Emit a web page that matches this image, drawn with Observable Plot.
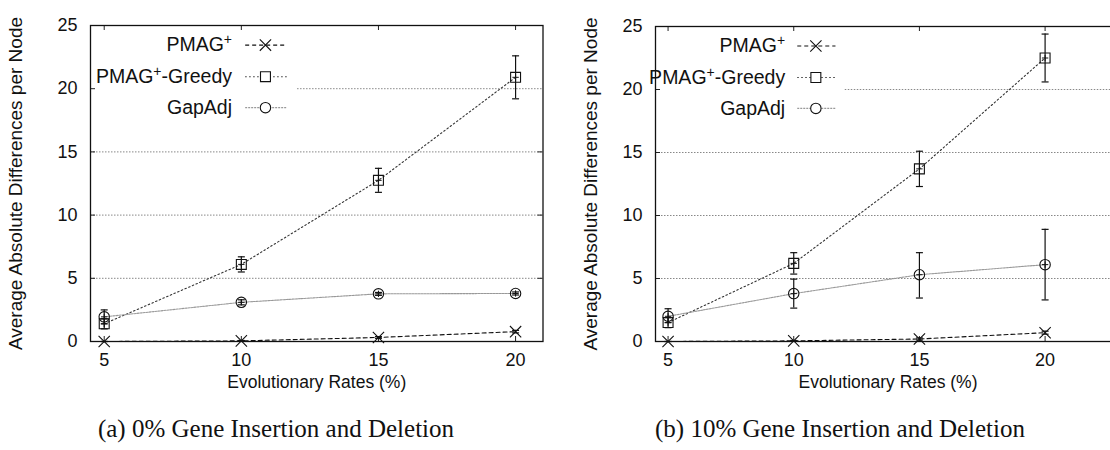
<!DOCTYPE html>
<html>
<head>
<meta charset="utf-8">
<script src="https://cdn.jsdelivr.net/npm/d3@7"></script>
<script src="https://cdn.jsdelivr.net/npm/@observablehq/plot@0.6"></script>
<style>
  html, body { margin: 0; padding: 0; background: #fff; }
  body { width: 1110px; height: 450px; overflow: hidden; position: relative; }
  .panel { position: absolute; top: 0; }
  .panel svg { max-width: none !important; overflow: visible; }
  .caption { position: absolute; top: 415px; font-family: "Liberation Serif", "DejaVu Serif", serif; font-size: 25px; color: #111; white-space: nowrap; transform: translateX(-50%); }
</style>
</head>
<body>
<div id="pa" class="panel" style="left:0px;width:555px"></div>
<div id="pb" class="panel" style="left:555px;width:575px"></div>
<div class="caption" style="left:276px">(a) 0% Gene Insertion and Deletion</div>
<div class="caption" style="left:840px">(b) 10% Gene Insertion and Deletion</div>
<script>
// ---------- data ----------
const rates = [5, 10, 15, 20];
const yTicks = [0, 5, 10, 15, 20, 25];
const gridLevels = [5, 10, 15, 20];
const seriesNames = ["PMAG⁺", "PMAG⁺-Greedy", "GapAdj"];
const xTitle = "Evolutionary Rates (%)";
const yTitle = "Average Absolute Differences per Node";

// panel (a) 0% insertion/deletion
const aPmag      = [0.0, 0.05, 0.32, 0.78];
const aPmagLo    = [0.0, 0.02, 0.25, 0.68];
const aPmagHi    = [0.0, 0.08, 0.39, 0.88];
const aGreedy    = [1.4, 6.1, 12.75, 20.9];
const aGreedyLo  = [1.0, 5.5, 11.8, 19.2];
const aGreedyHi  = [1.8, 6.7, 13.7, 22.6];
const aGap       = [1.95, 3.1, 3.77, 3.8];
const aGapLo     = [1.4, 2.9, 3.65, 3.68];
const aGapHi     = [2.5, 3.3, 3.88, 3.92];

// panel (b) 10% insertion/deletion
const bPmag      = [0.0, 0.05, 0.2, 0.7];
const bPmagLo    = [0.0, 0.02, 0.12, 0.58];
const bPmagHi    = [0.0, 0.08, 0.28, 0.82];
const bGreedy    = [1.5, 6.2, 13.7, 22.5];
const bGreedyLo  = [1.1, 5.35, 12.3, 20.6];
const bGreedyHi  = [1.9, 7.05, 15.1, 24.4];
const bGap       = [2.0, 3.8, 5.3, 6.1];
const bGapLo     = [1.5, 2.65, 3.45, 3.3];
const bGapHi     = [2.6, 4.95, 7.05, 8.9];

// ---------- styles ----------
const styles = [
  {stroke: "#111", dash: "4,3", symbol: "times"},
  {stroke: "#333", dash: "1.5,2.5", symbol: "square"},
  {stroke: "#999", dash: "2,1", symbol: "circle"}
];
const capSymbol = {draw(ctx, size) { const r = Math.sqrt(size / Math.PI); ctx.moveTo(-r, 0); ctx.lineTo(r, 0); }};

function rowsFor(vals, los, his, s) {
  return rates.map((x, i) => ({x, y: vals[i], lo: los[i], hi: his[i], s}));
}

function panel({width, height, marginLeft, marginRight, marginTop, marginBottom, xDomain, series, yTitleDx}) {
  const innerW = width - marginLeft - marginRight;
  const innerH = height - marginTop - marginBottom;
  const keyRight = 12.05, keyBottom = 17.3;
  const keyTextX = 9.66, keyL1 = 10.14, keyL2 = 11.66, keyM = 10.88;
  const keyRows = [23.45, 20.95, 18.5];
  const marks = [
    Plot.ruleY(gridLevels, {y: d => d, x1: d => d > keyBottom ? keyRight : xDomain[0], x2: xDomain[1], stroke: "#888", strokeDasharray: "1.5,1.5", strokeWidth: 1}),
    Plot.tickX(rates, {x: d => d, insetTop: innerH - 5, stroke: "#222"}),
    Plot.tickX(rates, {x: d => d, insetBottom: innerH - 5, stroke: "#222"}),
    Plot.tickY(yTicks, {y: d => d, insetRight: innerW - 5, stroke: "#222"}),
    Plot.tickY(yTicks.filter(d => d < keyBottom || d > 24), {y: d => d, insetLeft: innerW - 5, stroke: "#222"})
  ];
  series.forEach((rows, i) => {
    const st = styles[i];
    marks.push(Plot.line(rows, {x: "x", y: "y", stroke: st.stroke, strokeDasharray: st.dash, strokeWidth: 1.1}));
  });
  series.forEach((rows, i) => {
    const st = styles[i];
    marks.push(Plot.ruleX(rows, {x: "x", y1: "lo", y2: "hi", stroke: "#111", strokeWidth: 1.2}));
    marks.push(Plot.dot(rows, {x: "x", y: "lo", symbol: capSymbol, r: 3.5, stroke: "#111", strokeWidth: 1.2}));
    marks.push(Plot.dot(rows, {x: "x", y: "hi", symbol: capSymbol, r: 3.5, stroke: "#111", strokeWidth: 1.2}));
    marks.push(Plot.dot(rows, {x: "x", y: "y", symbol: st.symbol, r: st.symbol === "square" ? 5.6 : 5.2, stroke: "#111", fill: "none", strokeWidth: 1.1}));
    if (i > 0) marks.push(Plot.dot(rows, {x: "x", y: "y", symbol: "plus", r: 2.2, stroke: "#111", strokeWidth: 1}));
  });
  // key
  seriesNames.forEach((name, i) => {
    const st = styles[i];
    const row = [{name, y: keyRows[i]}];
    marks.push(Plot.text(row, {x: () => keyTextX, y: "y", text: "name", textAnchor: "end", fontSize: 19.5, fill: "#111"}));
    marks.push(Plot.link(row, {x1: () => keyL1, x2: () => keyL2, y1: "y", y2: "y", stroke: st.stroke, strokeDasharray: st.dash, strokeWidth: 1.1}));
    marks.push(Plot.dot(row, {x: () => keyM, y: "y", symbol: st.symbol, r: st.symbol === "square" ? 5.6 : 5.2, stroke: "#111", fill: "white", strokeWidth: 1.1}));
  });
  marks.push(
    Plot.frame({stroke: "#111", strokeWidth: 1.3}),
    Plot.axisX({ticks: rates, tickSize: 0, tickPadding: 12, fontSize: 18, label: null}),
    Plot.axisY({ticks: yTicks, tickSize: 0, tickPadding: 13, fontSize: 18, label: null}),
    Plot.text([xTitle], {frameAnchor: "bottom", dy: 46, fontSize: 17.5, fill: "#111"}),
    Plot.text([yTitle], {frameAnchor: "left", dx: yTitleDx, rotate: -90, textAnchor: "middle", fontSize: 19, fill: "#111"})
  );
  const svg = Plot.plot({
    width, height, marginLeft, marginRight, marginTop, marginBottom,
    x: {domain: xDomain, label: null},
    y: {domain: [0, 25], label: null},
    style: {fontFamily: "'Liberation Sans', Arial, sans-serif", fontSize: "18px", color: "#111", background: "transparent", overflow: "visible", maxWidth: "none"},
    marks
  });
  // superscript "+" in key labels
  const ns = "http://www.w3.org/2000/svg";
  svg.querySelectorAll("text").forEach(t => {
    if (t.textContent.includes("⁺")) {
      const parts = t.textContent.split("⁺");
      t.textContent = parts[0];
      const s = document.createElementNS(ns, "tspan");
      s.textContent = "+"; s.setAttribute("dy", "-7"); s.setAttribute("font-size", "14");
      t.append(s);
      if (parts[1]) {
        const b = document.createElementNS(ns, "tspan");
        b.textContent = parts[1]; b.setAttribute("dy", "7");
        t.append(b);
      }
    }
  });
  return svg;
}

const seriesA = [rowsFor(aPmag, aPmagLo, aPmagHi, 0), rowsFor(aGreedy, aGreedyLo, aGreedyHi, 1), rowsFor(aGap, aGapLo, aGapHi, 2)];
const seriesB = [rowsFor(bPmag, bPmagLo, bPmagHi, 0), rowsFor(bGreedy, bGreedyLo, bGreedyHi, 1), rowsFor(bGap, bGapLo, bGapHi, 2)];

document.getElementById("pa").append(panel({
  width: 555, height: 400, marginLeft: 90, marginRight: 12.5, marginTop: 25, marginBottom: 59,
  xDomain: [4.5, 21], series: seriesA, yTitleDx: -75
}));
document.getElementById("pb").append(panel({
  width: 575, height: 400, marginLeft: 100, marginRight: 10, marginTop: 26, marginBottom: 59,
  xDomain: [4.5, 23], series: seriesB, yTitleDx: -65
}));
</script>
</body>
</html>
